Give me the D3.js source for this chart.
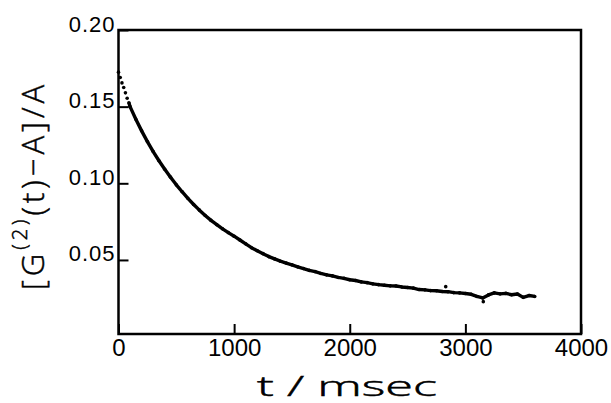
<!DOCTYPE html>
<html>
<head>
<meta charset="utf-8">
<script src="https://cdn.jsdelivr.net/npm/d3@7"></script>
<style>
  html, body { margin: 0; padding: 0; background: #fff; }
  svg { display: block; }
  text { font-family: "Liberation Sans", Arial, sans-serif; fill: #000; }
  .title { font-family: "Open Sans", "Liberation Sans", sans-serif; font-weight: 300; stroke: #000; stroke-width: 0.5px; }
</style>
</head>
<body>
<div id="chart"></div>
<script>
// decay of the normalised correlation function
const tMs = [0, 15, 30, 45, 60, 75, 90,
  100, 150, 200, 250, 300, 350, 400, 450, 500, 550, 600, 650, 700, 750,
  800, 850, 900, 950, 1000, 1050, 1100, 1150, 1200, 1250, 1300, 1350, 1400, 1450,
  1500, 1550, 1600, 1650, 1700, 1750, 1800, 1850, 1900, 1950, 2000, 2050, 2100,
  2150, 2200, 2250, 2300, 2350, 2400, 2450, 2500, 2550, 2600, 2650, 2700, 2750,
  2800, 2850, 2900, 2950, 3000, 3050, 3100, 3150, 3200, 3250, 3300, 3350, 3400,
  3450, 3500, 3550, 3600];
const gVals = [0.1725, 0.1690, 0.1655, 0.1625, 0.1590, 0.1555, 0.1525,
  0.1500, 0.1418, 0.1342, 0.1272, 0.1207, 0.1147, 0.1092, 0.1040, 0.0990, 0.0945,
  0.0902, 0.0862, 0.0825, 0.0790, 0.0758, 0.0730, 0.0703, 0.0678, 0.0655, 0.0630,
  0.0605, 0.0580, 0.0560, 0.0541, 0.0522, 0.0507, 0.0492, 0.0480, 0.0468, 0.0455,
  0.0444, 0.0432, 0.0424, 0.0412, 0.0403, 0.0396, 0.0386, 0.0380, 0.0371, 0.0366,
  0.0357, 0.0352, 0.0344, 0.0339, 0.0335, 0.0331, 0.0330, 0.0324, 0.0320, 0.0316,
  0.0307, 0.0305, 0.0300, 0.0299, 0.0294, 0.0293, 0.0287, 0.0285, 0.0281, 0.0276,
  0.0262, 0.0252, 0.0272, 0.0285, 0.0279, 0.0282, 0.0273, 0.0278, 0.0256, 0.0268,
  0.0262];
// stray single points
const strayT = [2830, 3155];
const strayV = [0.0326, 0.0228];

const xTicks = [0, 1000, 2000, 3000, 4000];
const yTicks = [0.05, 0.10, 0.15, 0.20];

const width = 611, height = 403;
const plot = { left: 118.5, right: 581, top: 30, bottom: 334 };

const svg = d3.select('#chart').append('svg')
  .attr('width', width)
  .attr('height', height);

const x = d3.scaleLinear().domain([0, 4000]).range([plot.left, plot.right]);
const y = d3.scaleLinear().domain([0.0017, 0.20]).range([plot.bottom, plot.top]);

const pts = tMs.map((t, i) => ({ t, v: gVals[i] }));
const strays = strayT.map((t, i) => ({ t, v: strayV[i] }));

// curve: dots at the start, a thick trace once the points run together
const line = d3.line().x(d => x(d.t)).y(d => y(d.v));
svg.append('path')
  .datum(pts.filter(d => d.t >= 90))
  .attr('d', line)
  .attr('fill', 'none')
  .attr('stroke', '#000')
  .attr('stroke-width', 3.4)
  .attr('stroke-linejoin', 'round');

svg.append('g').selectAll('circle')
  .data(pts.concat(strays))
  .join('circle')
  .attr('cx', d => x(d.t))
  .attr('cy', d => y(d.v))
  .attr('r', 1.8)
  .attr('fill', '#000');

// axes, ticks pointing inside
const xAxis = svg.append('g')
  .attr('transform', `translate(0,${plot.bottom})`)
  .call(d3.axisBottom(x).tickValues(xTicks).tickSize(-10).tickPadding(5).tickFormat(d3.format('d')));

const yAxis = svg.append('g')
  .attr('transform', `translate(${plot.left},0)`)
  .call(d3.axisLeft(y).tickValues(yTicks).tickSize(-10).tickPadding(3).tickFormat(d3.format('.2f')));

[xAxis, yAxis].forEach(g => {
  g.select('.domain').remove();
  g.selectAll('.tick line').attr('stroke', '#000').attr('stroke-width', 2);
});

xAxis.selectAll('.tick text')
  .style('font-size', '24px')
  .attr('fill', '#000');

yAxis.selectAll('.tick text')
  .style('font-size', '22px')
  .style('letter-spacing', '1px')
  .attr('dy', '0em')
  .attr('y', 1)
  .attr('fill', '#000');

// frame
svg.append('rect')
  .attr('x', plot.left)
  .attr('y', plot.top)
  .attr('width', plot.right - plot.left)
  .attr('height', plot.bottom - plot.top)
  .attr('fill', 'none')
  .attr('stroke', '#000')
  .attr('stroke-width', 2.5);

// axis titles
svg.append('text')
  .attr('class', 'title')
  .attr('x', 347)
  .attr('y', 396)
  .attr('text-anchor', 'middle')
  .attr('textLength', 180)
  .attr('lengthAdjust', 'spacingAndGlyphs')
  .style('font-size', '28px')
  .text('t / msec');

const yTitle = svg.append('text')
  .attr('class', 'title')
  .attr('transform', 'translate(44,185.5) rotate(-90)')
  .attr('text-anchor', 'middle')
  .style('font-size', '31px')
  .style('letter-spacing', '4px');
yTitle.append('tspan').text('[G');
yTitle.append('tspan')
  .attr('dy', -17)
  .style('font-size', '20px')
  .text('(2)');
yTitle.append('tspan')
  .attr('dy', 17)
  .text('(t)\u2212A]/A');
</script>
</body>
</html>
